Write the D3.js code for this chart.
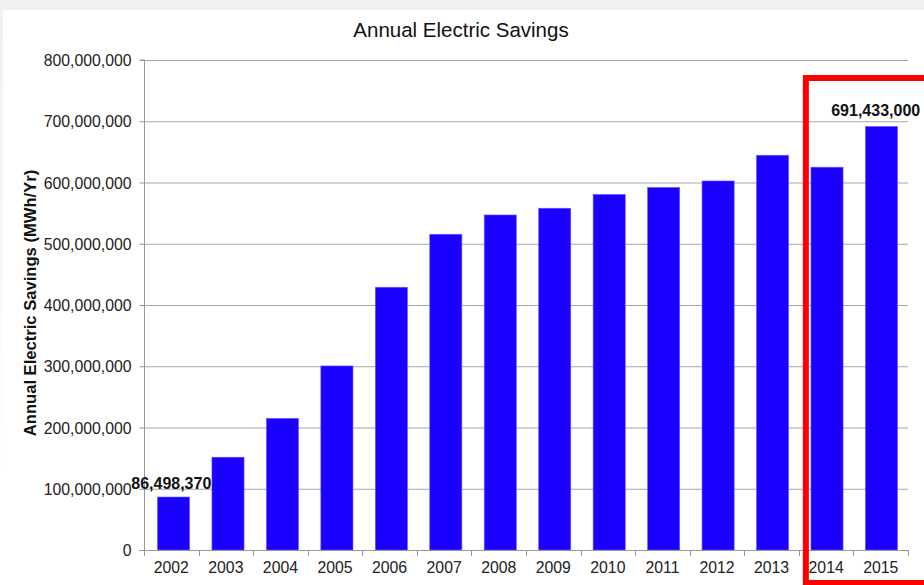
<!DOCTYPE html>
<html><head><meta charset="utf-8">
<script src="https://cdn.jsdelivr.net/npm/d3@7"></script>
<style>html,body{margin:0;padding:0;background:#fff;}svg{display:block;}</style>
</head><body>
<script>
const years = ["2002","2003","2004","2005","2006","2007","2008","2009","2010","2011","2012","2013","2014","2015"];
const savings = [86498370,151500000,215000000,300500000,429000000,515500000,547000000,558000000,580500000,592000000,602500000,644500000,625000000,691433000];
const yTicks = [0,100000000,200000000,300000000,400000000,500000000,600000000,700000000,800000000];
const labelled = {"2002":"86,498,370","2015":"691,433,000"};
const highlightYears = ["2014","2015"];

const W=924,H=585;
const svg=d3.select("body").append("svg").attr("width",W).attr("height",H);
const defs=svg.append("defs");
const lg=defs.append("linearGradient").attr("id","fade").attr("x1",0).attr("y1",0).attr("x2",0).attr("y2",1);
lg.append("stop").attr("offset","0%").attr("stop-color","#f0f0f0");
lg.append("stop").attr("offset","100%").attr("stop-color","#ffffff");
svg.append("rect").attr("width",W).attr("height",H).attr("fill","#fff");
svg.append("rect").attr("x",0).attr("y",0).attr("width",W).attr("height",10).attr("fill","#f1f1f1");
svg.append("rect").attr("x",0).attr("y",0).attr("width",3).attr("height",480).attr("fill","url(#fade)");

const m={l:144,r:908,t:60,b:550};
const x=d3.scaleBand().domain(years).range([m.l,m.r]).paddingInner(0.41).paddingOuter(0.22);
const xb=d3.scaleBand().domain(years).range([m.l,m.r]);
const y=d3.scaleLinear().domain([0,800000000]).range([m.b,m.t]);
const font="Liberation Sans, Arial, sans-serif";

// gridlines
svg.append("g").selectAll("line").data(yTicks.filter(d=>d>0)).join("line")
 .attr("x1",m.l).attr("x2",m.r).attr("y1",d=>y(d)+0.5).attr("y2",d=>y(d)+0.5)
 .attr("stroke","#a6a6a6").attr("stroke-width",1.2);

// title
svg.append("text").attr("x",461).attr("y",37).attr("text-anchor","middle")
 .attr("font-family",font).attr("font-size",20.5).attr("fill","#111").text("Annual Electric Savings");

// bars
svg.append("g").selectAll("rect").data(years).join("rect")
 .attr("x",d=>x(d)+1.5).attr("width",x.bandwidth()).attr("y",(d,i)=>y(savings[i]))
 .attr("height",(d,i)=>y(0)-y(savings[i])).attr("fill","#1a00ff").attr("stroke","#6a5cff").attr("stroke-width",0.6);

// y axis
const ya=d3.axisLeft(y).tickValues(yTicks).tickSize(5).tickFormat(d=>d===0?"0":d3.format(",")(d));
const gy=svg.append("g").attr("transform",`translate(${m.l+0.5},0)`).call(ya);
gy.select(".domain").attr("stroke","#999").attr("d",`M-5,${m.t}H0V${m.b}`);
gy.selectAll(".tick line").attr("stroke","#999");
gy.selectAll(".tick text").attr("font-family",font).attr("font-size",15.8).attr("fill","#222").attr("x",-13).attr("dy","0.35em");

// x axis
const xa=d3.axisBottom(xb).tickSize(0).tickSizeOuter(0);
const gx=svg.append("g").attr("transform",`translate(0,${m.b+0.5})`).call(xa);
gx.select(".domain").attr("stroke","#999").attr("d",`M${m.l-5},0H${m.r}`);
gx.selectAll(".tick text").attr("font-family",font).attr("font-size",15.8).attr("fill","#222").attr("y",11).attr("dy","0.71em");
svg.append("g").selectAll("line").data(years.concat(["end"])).join("line")
 .attr("x1",(d,i)=>Math.round(m.l+i*xb.step())+0.5).attr("x2",(d,i)=>Math.round(m.l+i*xb.step())+0.5)
 .attr("y1",m.b).attr("y2",m.b+6).attr("stroke","#999");

// y-axis title
svg.append("text").attr("transform","translate(36,303) rotate(-90)").attr("text-anchor","middle")
 .attr("font-family",font).attr("font-size",16.6).attr("font-weight","bold").attr("fill","#111")
 .text("Annual Electric Savings (MWh/Yr)");

// highlight box
const hx=xb(highlightYears[0]);
svg.append("rect").attr("x",hx+7).attr("y",78).attr("width",W-hx).attr("height",H-78-2)
 .attr("fill","none").attr("stroke","#ff0000").attr("stroke-width",6);

// value labels
svg.append("text").attr("x",xb("2002")+xb.bandwidth()/2).attr("y",y(savings[0])-8).attr("text-anchor","middle")
 .attr("font-family",font).attr("font-size",16).attr("font-weight","bold").attr("fill","#111").text(labelled["2002"]);
svg.append("text").attr("x",xb("2015")+xb.bandwidth()/2-5).attr("y",y(savings[13])-10).attr("text-anchor","middle")
 .attr("font-family",font).attr("font-size",16).attr("font-weight","bold").attr("fill","#111").text(labelled["2015"]);
</script>
</body></html>
